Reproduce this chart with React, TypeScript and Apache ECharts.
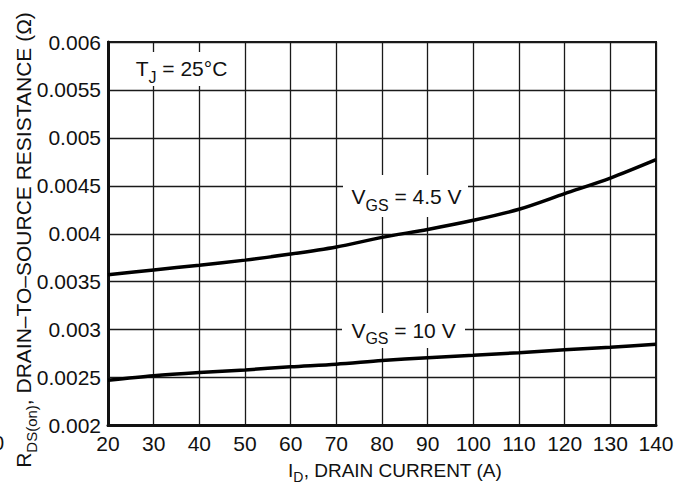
import React, { useEffect, useRef } from "react";
import * as echarts from "echarts";

const currents = [20, 30, 40, 50, 60, 70, 80, 90, 100, 110, 120, 130, 140];
const rdsVgs45 = [0.003572, 0.003622, 0.003672, 0.003725, 0.003788, 0.003862, 0.003962, 0.004045, 0.00414, 0.004255, 0.004418, 0.00458, 0.004772];
const rdsVgs10 = [0.002472, 0.002518, 0.002552, 0.00258, 0.002612, 0.002639, 0.002677, 0.002707, 0.002733, 0.00276, 0.002789, 0.002816, 0.002848];
const xMin = 20, xMax = 140, xStep = 10;
const yMin = 0.002, yMax = 0.006, yStep = 0.0005;

const FONT = "'Liberation Sans', Arial, Helvetica, sans-serif";
const INK = "#111";

function richLabel(fs: number, sub: number, lh: number, pad: number) {
  return {
    a: { fontSize: fs, lineHeight: lh, verticalAlign: "top", fontFamily: FONT, fill: INK, color: INK },
    s: { fontSize: sub, lineHeight: sub, padding: [pad, 0, 0, 0], verticalAlign: "top", fontFamily: FONT, fill: INK, color: INK },
  };
}

export default function App() {
  const ref = useRef<HTMLDivElement>(null);
  useEffect(() => {
    document.body.style.margin = "0";
    const chart = echarts.init(ref.current!, null, { renderer: "svg" });
    const textEl = (x: number, y: number, text: string, fs: number, sub: number, lh: number, pad: number, rot = 0) => ({
      type: "text",
      x,
      y,
      rotation: rot,
      z: 60,
      style: {
        text,
        rich: richLabel(fs, sub, lh, pad),
        align: "center",
        verticalAlign: "middle",
        fill: INK,
        font: `${fs}px ${FONT}`,
      },
    });
    chart.setOption({
      animation: false,
      backgroundColor: "#fff",
      grid: {
        left: 108,
        right: 28,
        top: 42,
        bottom: 72.5,
        show: true,
        borderColor: "#1a1a1a",
        borderWidth: 2,
        backgroundColor: "transparent",
      },
      xAxis: {
        type: "value",
        min: xMin,
        max: xMax,
        interval: xStep,
        axisLine: { show: true, lineStyle: { color: "#111", width: 3 } },
        axisTick: { show: false },
        splitLine: { show: true, lineStyle: { color: "#1a1a1a", width: 1.3 } },
        axisLabel: { fontSize: 21, fontFamily: FONT, color: INK, margin: 7 },
      },
      yAxis: {
        type: "value",
        min: yMin,
        max: yMax,
        interval: yStep,
        axisLine: { show: true, lineStyle: { color: "#111", width: 3 } },
        axisTick: { show: false },
        splitLine: { show: true, lineStyle: { color: "#1a1a1a", width: 1.3 } },
        axisLabel: {
          fontSize: 21,
          fontFamily: FONT,
          color: INK,
          margin: 7,
          padding: [0, 0, 8, 0],
          formatter: (v: number) => String(+v.toFixed(4)),
        },
      },
      series: [
        {
          type: "line",
          name: "VGS = 4.5 V",
          data: currents.map((c, i) => [c, rdsVgs45[i]]),
          smooth: 0.3,
          showSymbol: false,
          symbol: "none",
          lineStyle: { color: "#000", width: 3.5 },
          z: 5,
        },
        {
          type: "line",
          name: "VGS = 10 V",
          data: currents.map((c, i) => [c, rdsVgs10[i]]),
          smooth: 0.3,
          showSymbol: false,
          symbol: "none",
          lineStyle: { color: "#000", width: 3.5 },
          z: 5,
        },
      ],
      graphic: [
        { type: "rect", z: 50, shape: { x: 343, y: 175, width: 125, height: 42 }, style: { fill: "#fff" } },
        { type: "rect", z: 50, shape: { x: 342, y: 313, width: 123, height: 35 }, style: { fill: "#fff" } },
        { type: "rect", z: 50, shape: { x: 126, y: 52, width: 112, height: 34 }, style: { fill: "#fff" } },
        textEl(406.5, 198, "{a|V}{s|GS}{a| = 4.5 V}", 21, 16, 24, 11),
        textEl(403.5, 331.5, "{a|V}{s|GS}{a| = 10 V}", 21, 16, 24, 11),
        textEl(181.5, 70, "{a|T}{s|J}{a| = 25°C}", 21, 16, 24, 11),
        textEl(395, 472, "{a|I}{s|D}{a|, DRAIN CURRENT (A)}", 19, 14, 22, 9),
        textEl(24.5, 240, "{a|R}{s|DS(on)}{a|, DRAIN–TO–SOURCE RESISTANCE (Ω)}", 21, 15, 24, 11, Math.PI / 2),
        {
          type: "text",
          x: 4,
          y: 443,
          z: 60,
          style: { text: "0", fontSize: 20, fontFamily: FONT, fill: INK, align: "right", verticalAlign: "middle" },
        },
      ],
    });
    return () => chart.dispose();
  }, []);
  return <div ref={ref} style={{ width: 684, height: 498 }} />;
}
